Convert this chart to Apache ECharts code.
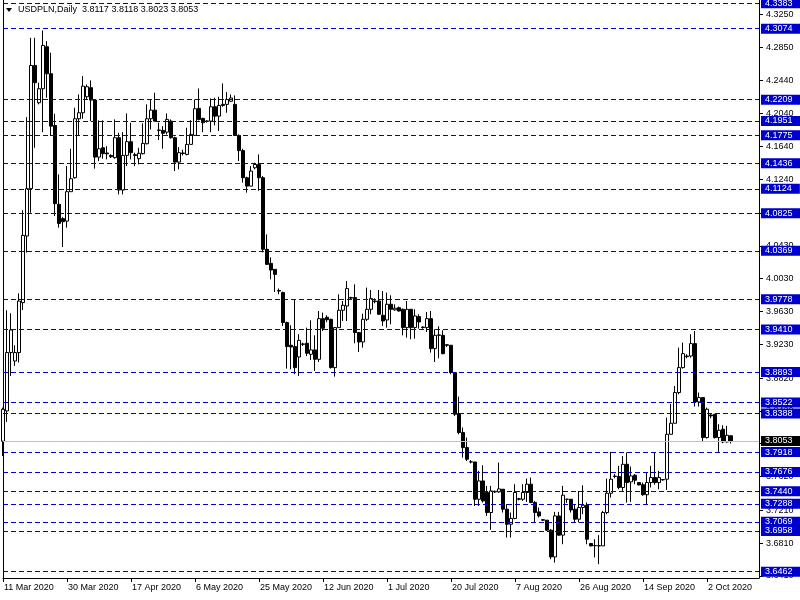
<!DOCTYPE html>
<html>
<head>
<meta charset="utf-8">
<title>USDPLN,Daily</title>
<script src="https://cdn.jsdelivr.net/npm/echarts@6/dist/echarts.min.js"></script>
<style>
html, body { margin: 0; padding: 0; background: #fff; }
#chart { width: 800px; height: 600px; }
</style>
</head>
<body>
<div id="chart"></div>
<script>
var symbolName = 'USDPLN,Daily';
var lastQuote = [3.8117, 3.8118, 3.8023, 3.8053];

// daily bars, Sun..Fri, from 11 Mar 2020
var opens = [
  3.8050, 3.8419, 3.9130, 3.9027, 3.9130, 3.9738, 4.0549, 4.1126, 4.2626, 4.2172,
  4.2343, 4.2854, 4.2525, 4.1895, 4.0935, 4.0760, 4.0731, 4.1089, 4.1259, 4.1977,
  4.2050, 4.2245, 4.2355, 4.2204, 4.1510, 4.1624, 4.1560, 4.1530, 4.1503, 4.1746,
  4.1109, 4.1531, 4.1698, 4.1540, 4.1491, 4.1552, 4.1673, 4.1977, 4.2082, 4.1840,
  4.1835, 4.1814, 4.1948, 4.1746, 4.1449, 4.1560, 4.1543, 4.1665, 4.1774, 4.2103,
  4.1981, 4.1950, 4.1948, 4.2123, 4.2009, 4.2152, 4.2152, 4.2190, 4.2152, 4.1774,
  4.1589, 4.1259, 4.1157, 4.1380, 4.1421, 4.1259, 4.0387, 4.0216, 4.0143, 3.9885,
  3.9860, 3.9495, 3.9219, 3.9203, 3.9076, 3.9235, 3.9243, 3.9109, 3.9162, 3.9048,
  3.9543, 3.9560, 3.9535, 3.8947, 3.9434, 3.9645, 3.9697, 3.9800, 3.9799, 3.9373,
  3.9259, 3.9535, 3.9657, 3.9750, 3.9758, 3.9584, 3.9527, 3.9718, 3.9650, 3.9677,
  3.9657, 3.9434, 3.9657, 3.9434, 3.9568, 3.9440, 3.9434, 3.9543, 3.9178, 3.9340,
  3.9340, 3.9225, 3.9219, 3.8886, 3.8387, 3.8156, 3.7973, 3.7800, 3.7798, 3.7344,
  3.7567, 3.7426, 3.7182, 3.7440, 3.7433, 3.7466, 3.7223, 3.7040, 3.7110, 3.7350,
  3.7344, 3.7426, 3.7527, 3.7304, 3.7190, 3.7095, 3.7089, 3.6967, 3.6642, 3.7141,
  3.6907, 3.7344, 3.7344, 3.7223, 3.7101, 3.7243, 3.7271, 3.6805, 3.6781, 3.6778,
  3.6776, 3.7182, 3.7417, 3.7625, 3.7621, 3.7487, 3.7770, 3.7555, 3.7637, 3.7547,
  3.7521, 3.7399, 3.7547, 3.7608, 3.7547, 3.7585, 3.7588, 3.8135, 3.8269, 3.8643,
  3.8947, 3.9080, 3.9088, 3.9239, 3.8529, 3.8582, 3.8095, 3.8370, 3.8379, 3.8095,
  3.8196, 3.8042, 3.8117
];
var highs = [
  3.8460, 3.9645, 3.9608, 3.9219, 3.9851, 4.0862, 4.1997, 4.2963, 4.2963, 4.2416,
  4.3052, 4.2922, 4.2781, 4.2038, 4.1300, 4.0780, 4.1401, 4.1612, 4.2111, 4.2273,
  4.2496, 4.2395, 4.2444, 4.2212, 4.1957, 4.1957, 4.1644, 4.1545, 4.1969, 4.1807,
  4.1814, 4.2042, 4.1929, 4.1564, 4.1624, 4.1921, 4.2152, 4.2212, 4.2294, 4.1929,
  4.1887, 4.2042, 4.1969, 4.1758, 4.1632, 4.1600, 4.1868, 4.1960, 4.2212, 4.2346,
  4.1990, 4.1960, 4.2224, 4.2233, 4.2245, 4.2407, 4.2301, 4.2273, 4.2261, 4.1787,
  4.1612, 4.1271, 4.1401, 4.1442, 4.1543, 4.1279, 4.0569, 4.0290, 4.0143, 3.9910,
  3.9872, 3.9507, 3.9462, 3.9778, 3.9353, 3.9250, 3.9434, 3.9523, 3.9340, 3.9636,
  3.9616, 3.9584, 3.9543, 3.9441, 3.9839, 3.9758, 4.0001, 3.9810, 3.9961, 3.9381,
  3.9604, 3.9921, 3.9892, 3.9790, 3.9892, 3.9879, 3.9860, 3.9827, 3.9718, 3.9690,
  3.9665, 3.9758, 3.9657, 3.9657, 3.9596, 3.9450, 3.9624, 3.9636, 3.9413, 3.9450,
  3.9401, 3.9235, 3.9219, 3.8894, 3.8594, 3.8217, 3.8095, 3.7820, 3.7798, 3.7689,
  3.7758, 3.7506, 3.7506, 3.7450, 3.7790, 3.7466, 3.7284, 3.7182, 3.7527, 3.7360,
  3.7527, 3.7596, 3.7609, 3.7324, 3.7243, 3.7100, 3.7089, 3.6980, 3.7190, 3.7190,
  3.7506, 3.7344, 3.7344, 3.7284, 3.7445, 3.7514, 3.7304, 3.6810, 3.6857, 3.6907,
  3.7202, 3.7596, 3.7920, 3.7650, 3.7750, 3.7870, 3.7913, 3.7742, 3.7649, 3.7550,
  3.7547, 3.7669, 3.7750, 3.7913, 3.7689, 3.7590, 3.8338, 3.8505, 3.8723, 3.9190,
  3.9251, 3.9110, 3.9353, 3.9393, 3.8643, 3.8582, 3.8460, 3.8390, 3.8379, 3.8257,
  3.8245, 3.8237, 3.8118
];
var lows = [
  3.7870, 3.8285, 3.8845, 3.8967, 3.9008, 3.9648, 4.0347, 4.0833, 4.1624, 4.2152,
  4.1814, 4.2233, 4.1766, 4.0792, 4.0651, 4.0415, 4.0651, 4.1089, 4.1247, 4.1766,
  4.1977, 4.2212, 4.1948, 4.1369, 4.1462, 4.1491, 4.1482, 4.1500, 4.1491, 4.1056,
  4.1056, 4.1401, 4.1482, 4.1401, 4.1421, 4.1543, 4.1665, 4.1847, 4.1948, 4.1717,
  4.1612, 4.1786, 4.1734, 4.1340, 4.1361, 4.1530, 4.1531, 4.1665, 4.1766, 4.1957,
  4.1814, 4.1930, 4.1814, 4.1896, 4.1827, 4.2123, 4.2050, 4.2180, 4.1766, 4.1462,
  4.1199, 4.1077, 4.1157, 4.1361, 4.1100, 4.0350, 4.0200, 4.0022, 3.9867, 3.9840,
  3.9453, 3.8935, 3.8926, 3.8866, 3.8845, 3.9210, 3.9088, 3.9040, 3.8906, 3.9015,
  3.9393, 3.9500, 3.8935, 3.8837, 3.9430, 3.9514, 3.9514, 3.9780, 3.9243, 3.9137,
  3.9190, 3.9514, 3.9596, 3.9730, 3.9596, 3.9453, 3.9434, 3.9474, 3.9640, 3.9630,
  3.9340, 3.9312, 3.9292, 3.9300, 3.9422, 3.9420, 3.9381, 3.9129, 3.9015, 3.9060,
  3.9109, 3.9200, 3.8866, 3.8358, 3.8135, 3.7851, 3.7810, 3.7780, 3.7263, 3.7263,
  3.7304, 3.7141, 3.6971, 3.7420, 3.7426, 3.7182, 3.6878, 3.6878, 3.7101, 3.7330,
  3.7324, 3.7311, 3.7296, 3.7061, 3.7121, 3.7080, 3.6959, 3.6613, 3.6573, 3.6899,
  3.6796, 3.7300, 3.7182, 3.7061, 3.7061, 3.7162, 3.6796, 3.6770, 3.6635, 3.6553,
  3.6776, 3.7162, 3.7365, 3.7600, 3.7466, 3.7445, 3.7304, 3.7311, 3.7527, 3.7515,
  3.7387, 3.7278, 3.7487, 3.7521, 3.7466, 3.7570, 3.7457, 3.8135, 3.8269, 3.8622,
  3.8935, 3.9060, 3.9068, 3.8472, 3.8472, 3.8042, 3.8083, 3.8330, 3.8083, 3.7920,
  3.8026, 3.8034, 3.8023
];
var closes = [
  3.8440, 3.9130, 3.9405, 3.9130, 3.9757, 4.0557, 4.1126, 4.2626, 4.2416, 4.2343,
  4.2870, 4.2525, 4.1887, 4.0943, 4.0703, 4.0724, 4.1089, 4.1247, 4.1977, 4.2050,
  4.2374, 4.2367, 4.2204, 4.1510, 4.1612, 4.1552, 4.1550, 4.1515, 4.1746, 4.1109,
  4.1531, 4.1698, 4.1564, 4.1530, 4.1556, 4.1677, 4.1977, 4.2082, 4.1948, 4.1835,
  4.1800, 4.1969, 4.1746, 4.1449, 4.1564, 4.1555, 4.1665, 4.1787, 4.2099, 4.1969,
  4.1929, 4.1945, 4.2123, 4.2009, 4.2139, 4.2139, 4.2212, 4.2230, 4.1774, 4.1589,
  4.1259, 4.1157, 4.1340, 4.1420, 4.1259, 4.0387, 4.0204, 4.0135, 4.0082, 3.9879,
  3.9495, 3.9203, 3.9198, 3.8947, 3.9279, 3.9231, 3.9122, 3.9162, 3.9048, 3.9543,
  3.9426, 3.9530, 3.8947, 3.9434, 3.9645, 3.9706, 3.9909, 3.9793, 3.9373, 3.9259,
  3.9535, 3.9657, 3.9787, 3.9758, 3.9596, 3.9514, 3.9718, 3.9657, 3.9670, 3.9636,
  3.9434, 3.9657, 3.9434, 3.9576, 3.9503, 3.9434, 3.9543, 3.9178, 3.9340, 3.9345,
  3.9117, 3.9219, 3.8886, 3.8379, 3.8156, 3.7973, 3.7831, 3.7798, 3.7344, 3.7567,
  3.7324, 3.7182, 3.7445, 3.7433, 3.7470, 3.7223, 3.7040, 3.7110, 3.7426, 3.7344,
  3.7426, 3.7527, 3.7304, 3.7182, 3.7141, 3.7089, 3.6967, 3.6642, 3.7141, 3.6907,
  3.7393, 3.7344, 3.7214, 3.7101, 3.7243, 3.7271, 3.6857, 3.6776, 3.6778, 3.6776,
  3.7182, 3.7417, 3.7588, 3.7621, 3.7487, 3.7770, 3.7547, 3.7628, 3.7576, 3.7518,
  3.7399, 3.7547, 3.7608, 3.7547, 3.7608, 3.7580, 3.8135, 3.8269, 3.8643, 3.8947,
  3.9117, 3.9088, 3.9239, 3.8529, 3.8582, 3.8095, 3.8440, 3.8358, 3.8095, 3.8184,
  3.8042, 3.8123, 3.8053
];

var dateLabels = ['11 Mar 2020', '30 Mar 2020', '17 Apr 2020', '6 May 2020', '25 May 2020', '12 Jun 2020',
  '1 Jul 2020', '20 Jul 2020', '7 Aug 2020', '26 Aug 2020', '14 Sep 2020', '2 Oct 2020'];
var priceTicks = [4.3250, 4.2850, 4.2440, 4.2040, 4.1640, 4.1240, 4.0830, 4.0430, 4.0030,
  3.9630, 3.9230, 3.8820, 3.8420, 3.8020, 3.7620, 3.7210, 3.6810, 3.6410];
// horizontal levels drawn on the chart
var levels = [4.3383, 4.3074, 4.2209, 4.1951, 4.1775, 4.1436, 4.1124, 4.0825, 4.0369, 3.9778, 3.9410,
  3.8893, 3.8522, 3.8388, 3.7918, 3.7676, 3.7440, 3.7288, 3.7069, 3.6958, 3.6462];
var bidPrice = 3.8053;

var monthNames = ['Jan', 'Feb', 'Mar', 'Apr', 'May', 'Jun', 'Jul', 'Aug', 'Sep', 'Oct', 'Nov', 'Dec'];
var shiftBars = 7;   // empty space right of the last bar
var categories = [];
var t = Date.UTC(2020, 2, 11);
while (categories.length < opens.length + shiftBars) {
  var dt = new Date(t);
  if (dt.getUTCDay() !== 6) {
    categories.push(dt.getUTCDate() + ' ' + monthNames[dt.getUTCMonth()] + ' ' + dt.getUTCFullYear());
  }
  t += 86400000;
}

var candles = opens.map(function (o, i) {
  return [o, closes[i], lows[i], highs[i]];
});

var font = 'Liberation Sans';
var fontSize = 9;
var yMin = 3.6385, yMax = 4.3423;
var levelColor = '#0000CD';

function showDate(index, value) {
  return dateLabels.indexOf(value) >= 0;
}
function fmt4(v) { return v.toFixed(4); }

// helper axis: a set of horizontal lines with boxed price labels on the right
function lineAxis(values, lineStyle, boxColor) {
  return {
    type: 'value',
    position: 'right',
    min: yMin,
    max: yMax,
    z: 3,
    axisLine: { show: false },
    axisTick: { show: false, customValues: values },
    axisLabel: {
      customValues: values, margin: 2, color: '#fff', backgroundColor: boxColor,
      padding: [1, 8, 0, 4], fontFamily: font, fontSize: fontSize, formatter: fmt4
    },
    splitLine: { show: true, lineStyle: lineStyle }
  };
}

var chart = echarts.init(document.getElementById('chart'));
chart.setOption({
  animation: false,
  backgroundColor: '#fff',
  grid: { left: 3, right: 41, top: 0, bottom: 22, containLabel: false, outerBoundsMode: 'none' },
  xAxis: {
    type: 'category',
    data: categories,
    boundaryGap: false,
    axisLine: { lineStyle: { color: '#000', width: 1 } },
    axisTick: { interval: showDate, length: 4, lineStyle: { color: '#000' } },
    axisLabel: {
      interval: showDate, align: 'left', margin: 5, padding: [0, 0, 0, 1],
      color: '#000', fontFamily: font, fontSize: fontSize
    },
    splitLine: { show: false }
  },
  yAxis: [{
    type: 'value',
    position: 'right',
    min: yMin,
    max: yMax,
    axisLine: { show: true, lineStyle: { color: '#000' } },
    axisTick: { show: true, customValues: priceTicks, length: 4, lineStyle: { color: '#000' } },
    axisLabel: {
      customValues: priceTicks, margin: 7, color: '#000', fontFamily: font, fontSize: fontSize,
      formatter: fmt4
    },
    splitLine: { show: false }
  }, {
    type: 'value',
    position: 'left',
    min: yMin,
    max: yMax,
    axisLine: { show: true, lineStyle: { color: '#000' } },
    axisTick: { show: false },
    axisLabel: { show: false },
    splitLine: { show: false }
  },
    lineAxis(levels, { color: levelColor, type: [5, 3], width: 1 }, levelColor),
    lineAxis([bidPrice], { color: '#C0C0C0', type: 'solid', width: 1 }, '#000')
  ],
  graphic: [{
    type: 'polygon',
    shape: { points: [[6, 8], [12, 8], [9, 12]] },
    style: { fill: '#000' }
  }, {
    type: 'text',
    left: 18,
    top: 5,
    style: {
      text: symbolName + '  ' + lastQuote.map(fmt4).join(' '),
      fill: '#000',
      font: fontSize + 'px "' + font + '"'
    }
  }],
  series: [{
    type: 'candlestick',
    data: candles,
    barWidth: 3,
    clip: false,
    itemStyle: {
      color: '#fff',
      color0: '#000',
      borderColor: '#000',
      borderColor0: '#000',
      borderWidth: 1
    }
  }]
});
</script>
</body>
</html>
